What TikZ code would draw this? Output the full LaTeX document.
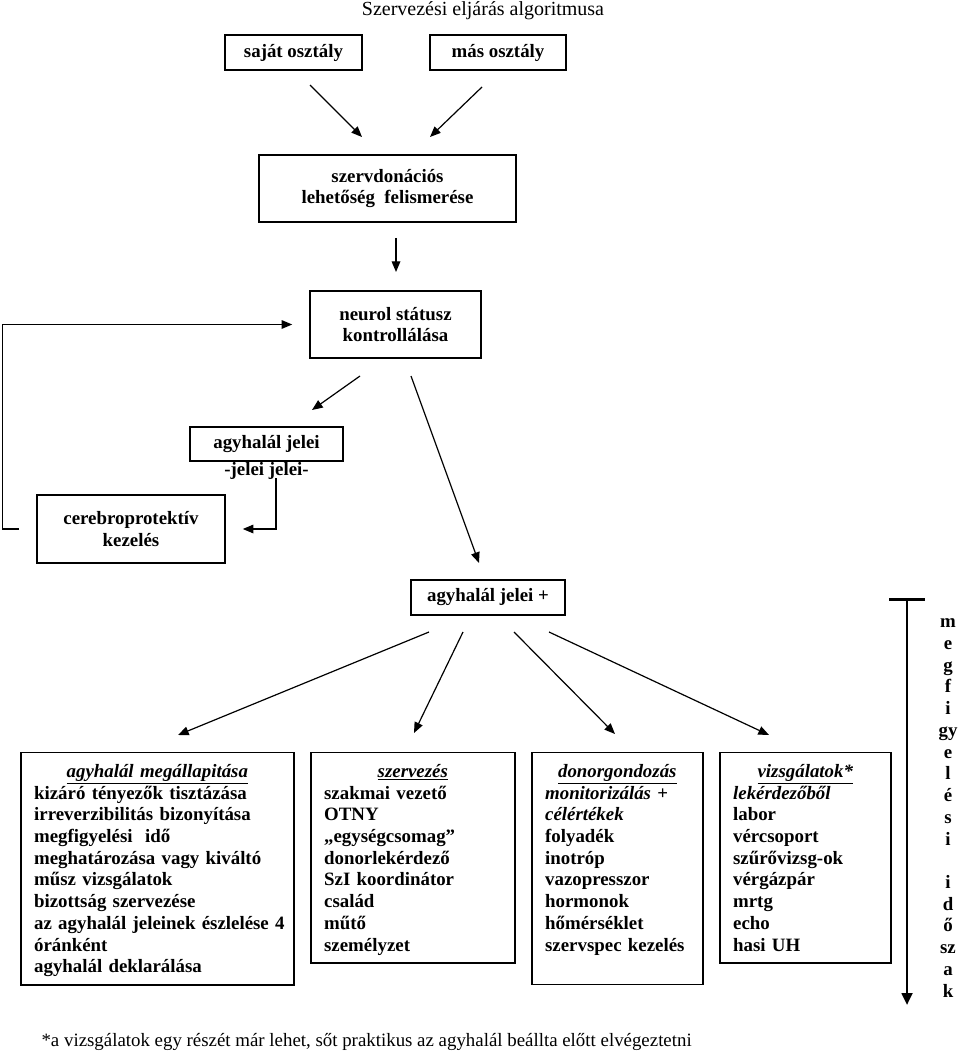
\documentclass[tikz,border=0pt]{standalone}
\usepackage{fontspec}
\setmainfont{Liberation Serif}
\usetikzlibrary{arrows.meta,positioning}
\newcommand{\boxhead}[1]{\makebox[\hsize]{\rule{0pt}{18.75pt}\textit{\underline{#1}}}}
\newcommand{\boxend}[1][9pt]{\rule[-#1]{0pt}{#1}}
\begin{document}
\begin{tikzpicture}[x=0.75pt, y=-0.75pt,
  node font=\fontsize{14.15}{16.3}\selectfont,
  box/.style={draw, line width=1.2pt, font=\bfseries, align=center, inner sep=0pt},
  listbox/.style={draw, line width=1.2pt, font=\bfseries, align=left,
    anchor=north west, inner xsep=10pt, inner ysep=0pt},
  arrow/.style={line width=0.9pt, -{Triangle[length=8pt,width=6.5pt]}}]
  \useasboundingbox (0,0) rectangle (960,1055);
  % title
  \node [anchor=base, font=\fontsize{15}{17}\selectfont] (title) at (483,16)
    {Szervezési eljárás algoritmusa};
  % upper boxes
  \node [box, minimum width=102.75pt, minimum height=26.25pt]
    (sajat) at (293.5,52.5) {saját osztály};
  \node [box, minimum width=102pt, minimum height=26.25pt]
    (mas) at (498,52.5) {más osztály};
  \node [box, minimum width=192.75pt, minimum height=50.25pt]
    (felism) at (387.5,188.5) {szervdonációs\\lehetőség\ \ felismerése};
  \node [box, minimum width=128.25pt, minimum height=50.25pt]
    (neurol) at (395.5,324.5) {neurol státusz\\kontrollálása};
  \node [box, minimum width=114.75pt, minimum height=25.5pt]
    (jelmin) at (266.5,444) {agyhalál jelei};
  \node [below=0pt of jelmin, font=\bfseries, inner sep=0pt] (jelminlab) {-jelei jelei-};
  \node [box, minimum width=141pt, minimum height=51pt]
    (cerebro) at (131,529) {cerebroprotektív\\kezelés};
  \node [box, minimum width=115.5pt, minimum height=26.25pt]
    (jelplus) at (488,597.5) {agyhalál jelei +};
  % lower boxes
  \node [listbox, text width=184.75pt] (megall) at (20,751.5) {\boxhead{agyhalál megállapitása}\\
    kizáró tényezők tisztázása\\ irreverzibilitás bizonyítása\\ megfigyelési\ \ idő\\
    meghatározása vagy kiváltó\\ műsz vizsgálatok\\ bizottság szervezése\\
    \mbox{az agyhalál jeleinek észlelése 4}\\ óránként\\ agyhalál deklarálása\boxend};
  \node [listbox, text width=133pt] (szerv) at (310,751.5) {\boxhead{szervezés}\\
    szakmai vezető\\ OTNY\\ „egységcsomag”\\ donorlekérdező\\ SzI koordinátor\\
    család\\ műtő\\ személyzet\boxend};
  \node [listbox, text width=108.25pt] (gondoz) at (531,751.5) {\boxhead{donorgondozás}\\
    \textit{monitorizálás} +\\ \textit{célértékek}\\ folyadék\\ inotróp\\ vazopresszor\\
    hormonok\\ hőmérséklet\\ szervspec kezelés\boxend[25pt]};
  \node [listbox, text width=108.25pt] (vizsg) at (719,751.5) {\boxhead{vizsgálatok*}\\
    \textit{lekérdezőből}\\ labor\\ vércsoport\\ szűrővizsg-ok\\ vérgázpár\\
    mrtg\\ echo\\ hasi UH\boxend};
  % time axis
  \node [font=\bfseries, align=center, inner sep=0pt] (idoszak) at (948,808)
    {m\\e\\g\\f\\i\\gy\\e\\l\\é\\s\\i\\\mbox{}\\i\\d\\ő\\sz\\a\\k};
  \coordinate (ttop) at (907,598);
  \coordinate (tbot) at (907,1005);
  \draw [line width=2pt, {Bar[width=27pt]}-{Triangle[length=9pt,width=8pt]}] (ttop) -- (tbot);
  % footnote
  \node [anchor=base west] (note) at (35,1046)
    {*a vizsgálatok egy részét már lehet, sőt praktikus az agyhalál beállta előtt elvégeztetni};
  % arrows
  \foreach \name/\sx/\sy/\tx/\ty in {sm/310/85/362/137, mm/482/87/430/137,
      fn/396/238/396/272, nj/360/376/312/410, np/411/376/479/563,
      p1/429/632/178/735, p2/463/632/414/733, p3/514/632/615/734, p4/549/632/769/735} {
    \coordinate (\name s) at (\sx,\sy);
    \coordinate (\name t) at (\tx,\ty);
    \draw [arrow] (\name s) -- (\name t);
  }
  % back to neurol
  \draw [arrow, shorten >=12.75pt]
    ([xshift=-12.75pt]cerebro.west) -- ([xshift=-25.5pt]cerebro.west) |- (neurol.west);
  \coordinate (jelminend) at (276,478);
  \draw [arrow, shorten >=12.75pt] (jelminend) |- (cerebro.east);
\end{tikzpicture}
\end{document}
